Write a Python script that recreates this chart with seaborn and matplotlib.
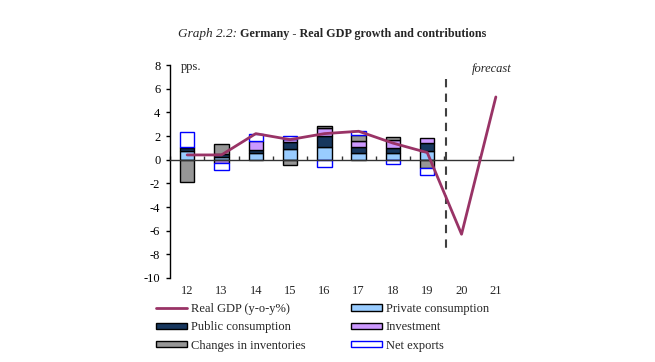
import numpy as np
import matplotlib
matplotlib.use('Agg')
import matplotlib.pyplot as plt
import seaborn as sns
from matplotlib.patches import Patch
from matplotlib.lines import Line2D

years = ['12', '13', '14', '15', '16', '17', '18', '19', '20', '21']
gdp = [0.4, 0.4, 2.2, 1.7, 2.2, 2.4, 1.4, 0.6, -6.3, 5.3]

# contributions, 2012-2019 only
private = [0.7, 0.25, 0.55, 0.9, 1.1, 0.6, 0.6, 0.7]
public = [0.3, 0.25, 0.3, 0.6, 0.9, 0.5, 0.4, 0.7]
investment = [0.05, -0.25, 0.7, 0.25, 0.65, 0.5, 0.65, 0.4]
inventories = [-1.9, 0.8, 0.0, -0.45, 0.2, 0.5, 0.3, -0.7]
net_exports = [1.3, -0.65, 0.6, 0.25, -0.65, 0.35, -0.35, -0.6]

series = [
    ('Private consumption', private, '#99CCFF', 'black'),
    ('Public consumption', public, '#17375E', 'black'),
    ('Investment', investment, '#CC99FF', 'black'),
    ('Changes in inventories', inventories, '#969696', 'black'),
    ('Net exports', net_exports, 'white', '#0000FF'),
]
gdp_color = '#993366'

sns.set_theme(style='white')
plt.rcParams['font.family'] = ['Liberation Serif', 'DejaVu Serif']
plt.rcParams['font.size'] = 9

fig = plt.figure(figsize=(6.55, 3.62), dpi=100)
ax = fig.add_axes([170 / 655, 1 - 278 / 362, (513 - 170) / 655, (278 - 65) / 362])

x = np.arange(len(private))
pos_base = np.zeros(len(x))
neg_base = np.zeros(len(x))
for name, vals, fc, ec in series:
    v = np.array(vals)
    for i in x:
        if v[i] == 0:
            continue
        if v[i] > 0:
            ax.bar(i, v[i], bottom=pos_base[i], width=0.42, color=fc, edgecolor=ec, linewidth=1, zorder=2)
            pos_base[i] += v[i]
        else:
            ax.bar(i, v[i], bottom=neg_base[i], width=0.42, color=fc, edgecolor=ec, linewidth=1, zorder=2)
            neg_base[i] += v[i]

sns.lineplot(x=np.arange(len(years)), y=gdp, color=gdp_color, linewidth=2, ax=ax, zorder=3)

# forecast divider
ax.plot([7.55, 7.55], [6.8, -7.6], color='#404040', linestyle=(0, (4, 3)), linewidth=1.5, zorder=1)

ax.set_xlim(-0.5, 9.5)
ax.set_ylim(-10, 8)
ax.set_yticks(np.arange(-10, 9, 2))
ax.set_yticklabels([str(t) for t in range(-10, 9, 2)], fontsize=9)
ax.tick_params(axis='y', direction='out', length=3, width=1, pad=4, left=True, colors='black')

ax.spines['top'].set_visible(False)
ax.spines['right'].set_visible(False)
ax.spines['left'].set_color('black')
ax.spines['left'].set_linewidth(1)
ax.spines['bottom'].set_position(('data', 0))
ax.spines['bottom'].set_color('#333333')
ax.spines['bottom'].set_linewidth(1)
ax.set_xticks([])
ax.set_xticks(np.arange(-0.5, 10, 1), minor=True)
ax.tick_params(axis='x', which='minor', direction='in', length=3, width=1, bottom=True, colors='#333333')
ax.set_xlabel('')
ax.set_ylabel('')

for i, lab in enumerate(years):
    ax.text(i, -11.1, lab, ha='center', va='center', fontsize=9, clip_on=False)

ax.text(-0.17, 7.85, 'pps.', ha='left', va='center', fontsize=9)
ax.text(9.45, 7.7, 'forecast', ha='right', va='center', fontsize=9, style='italic')

fig.text(237 / 655, 1 - 34 / 362, 'Graph 2.2:', ha='right', va='center', fontsize=9.5, style='italic')
fig.text(240 / 655, 1 - 34 / 362, 'Germany - Real GDP growth and contributions',
         ha='left', va='center', fontsize=8.7, fontweight='bold')

handles = [
    Line2D([], [], color=gdp_color, linewidth=2),
    Patch(facecolor=series[1][2], edgecolor='black'),
    Patch(facecolor=series[3][2], edgecolor='black'),
    Patch(facecolor=series[0][2], edgecolor='black'),
    Patch(facecolor=series[2][2], edgecolor='black'),
    Patch(facecolor='white', edgecolor='#0000FF'),
]
labels = ['Real GDP (y-o-y%)', 'Public consumption', 'Changes in inventories',
          'Private consumption', 'Investment', 'Net exports']
fig.legend(handles, labels, ncol=2, loc='upper left', bbox_to_anchor=(156 / 655, 1 - 303 / 362),
           frameon=False, fontsize=9, handlelength=2.5, handleheight=0.4, handletextpad=0.3,
           labelspacing=0.5, columnspacing=3.6, borderpad=0, borderaxespad=0)

fig.savefig('out.png', dpi=100)
